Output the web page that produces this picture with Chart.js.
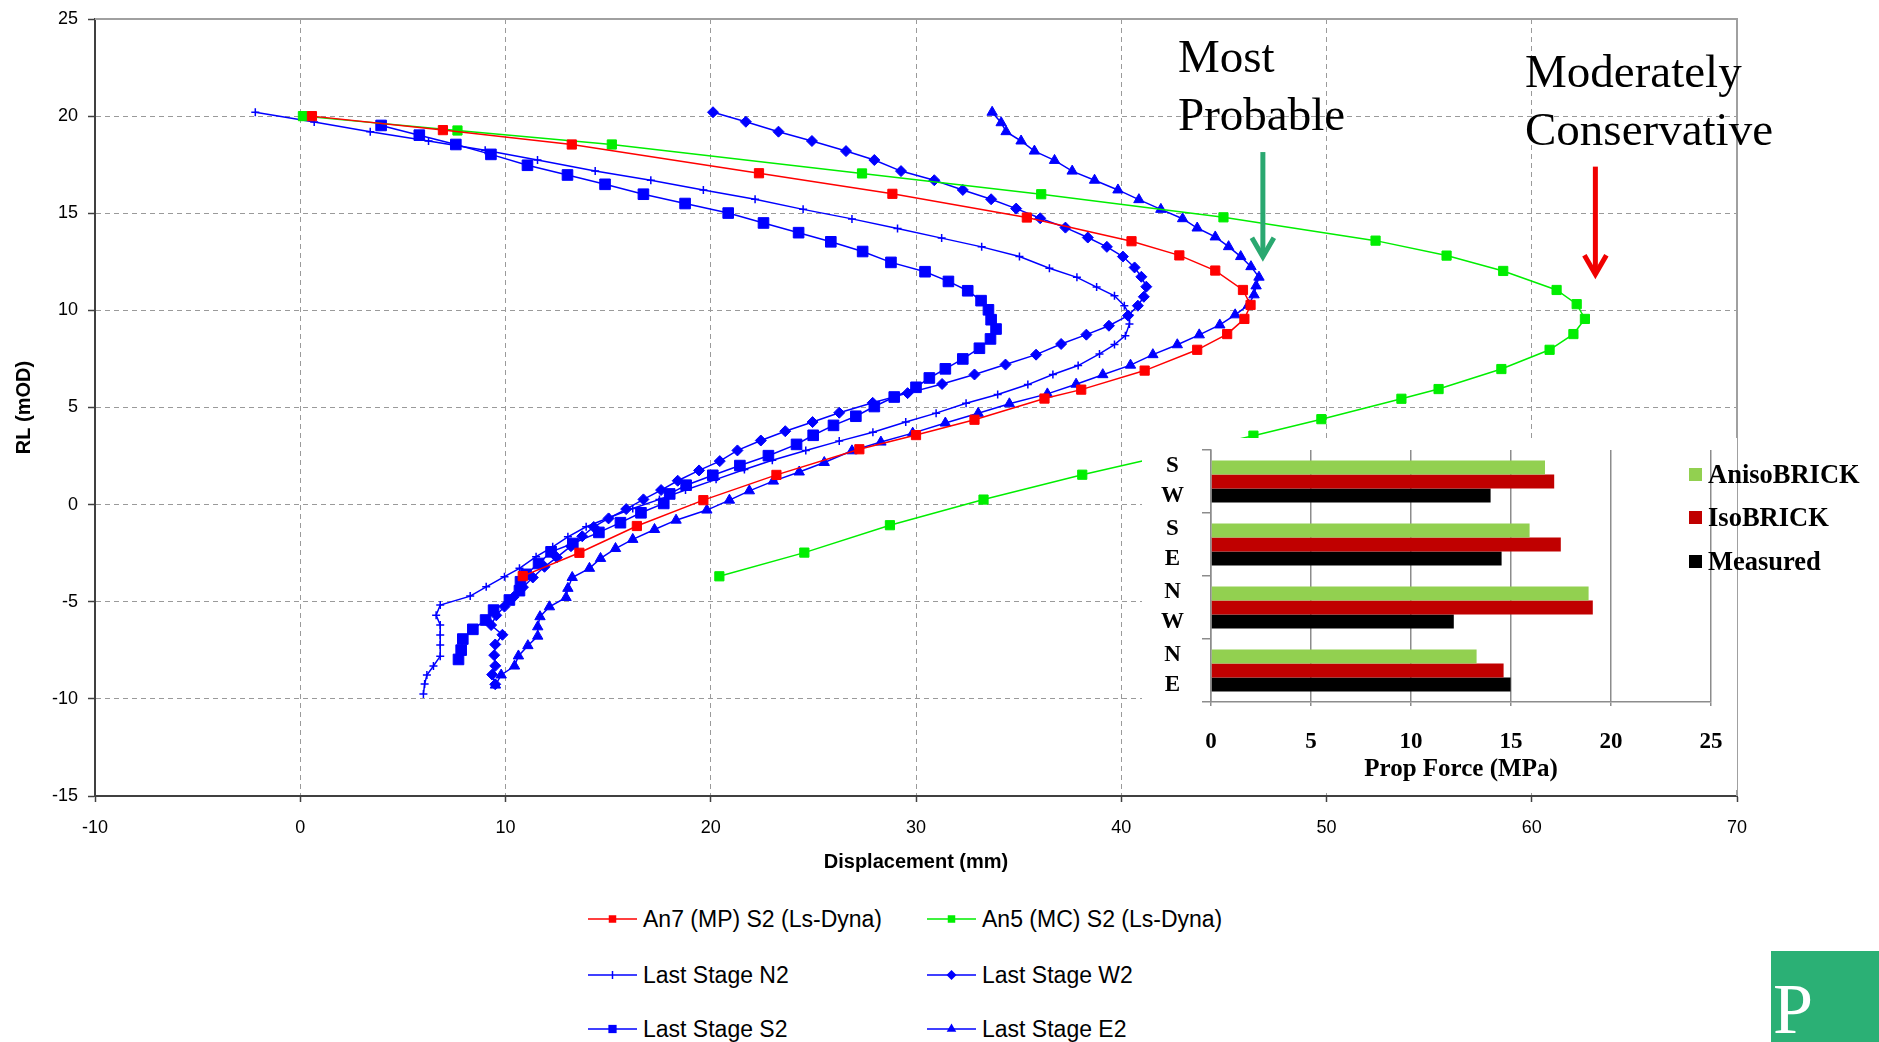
<!DOCTYPE html>
<html>
<head>
<meta charset="utf-8">
<script src="https://cdn.jsdelivr.net/npm/chart.js@4.4.1/dist/chart.umd.min.js"></script>
<style>
  html, body { margin: 0; padding: 0; background: #fff; }
  body { width: 1879px; height: 1042px; position: relative; overflow: hidden; font-family: "Liberation Sans", Arial, sans-serif; }
  #mainChart { position: absolute; left: 0; top: 0; }
  #insetBox { position: absolute; left: 1142px; top: 438px; width: 595px; height: 352px; background: #fff; }
  .note { position: absolute; font-family: "Liberation Serif", "Times New Roman", serif; font-size: 47px; line-height: 58px; color: #000; white-space: nowrap; }
  .lg { position: absolute; height: 30px; display: flex; align-items: center; font-size: 23px; color: #000; white-space: nowrap; }
  .lg canvas { margin-right: 6px; }
  .ilg { position: absolute; height: 30px; display: flex; align-items: center; font-family: "Liberation Serif", serif; font-weight: bold; font-size: 26.5px; color: #000; white-space: nowrap; }
  .ilg span.box { width: 13px; height: 13px; margin-right: 6px; display: inline-block; }
  #logo { position: absolute; left: 1771px; top: 951px; width: 108px; height: 91px; background: #2bb075; }
  #logo span { position: absolute; left: 2px; top: 22px; font-family: "Liberation Serif", serif; font-size: 72px; line-height: 1; color: #fff; }
</style>
</head>
<body>
<canvas id="mainChart" width="1879" height="900"></canvas>
<div class="note" style="left:1178px; top:27px;">Most<br>Probable</div>
<div class="note" style="left:1525px; top:42px;">Moderately<br>Conservative</div>
<div id="insetBox"><canvas id="insetChart" width="595" height="352"></canvas></div>
<div id="legendArea"></div>
<div id="logo"><span>P</span></div>
<script>
// wall displacement profiles: displacement (mm) vs level RL (mOD)
const an7Disp  = [0.57, 6.95, 13.23, 22.35, 28.85, 35.4, 40.5, 42.83, 44.58, 45.93, 46.3, 46.0, 45.16, 43.7, 41.14, 38.05, 36.26, 32.85, 30.0, 27.24, 23.2, 19.64, 16.4, 13.6, 10.84];
const an7Level = [20.0, 19.28, 18.54, 17.06, 16.0, 14.78, 13.56, 12.83, 12.05, 11.05, 10.28, 9.56, 8.78, 7.97, 6.9, 5.92, 5.46, 4.37, 3.58, 2.85, 1.53, 0.23, -1.1, -2.48, -3.68];

const an5Disp  = [0.13, 7.66, 15.18, 27.37, 36.1, 44.98, 52.39, 55.85, 58.61, 61.21, 62.19, 62.59, 62.03, 60.87, 58.52, 55.46, 53.65, 49.75, 46.44, 42.3, 38.1, 33.29, 28.73, 24.56, 20.42];
const an5Level = [20.0, 19.26, 18.54, 17.05, 15.98, 14.79, 13.59, 12.82, 12.03, 11.05, 10.32, 9.56, 8.78, 7.97, 6.98, 5.95, 5.45, 4.4, 3.55, 2.55, 1.54, 0.26, -1.06, -2.47, -3.69];

const n2Disp  = [-2.19, 0.68, 3.41, 6.25, 9.01, 11.56, 14.37, 17.08, 19.64, 22.16, 24.5, 26.88, 29.1, 31.25, 33.2, 35.04, 36.5, 37.84, 38.8, 39.67, 40.15, 40.4, 40.4, 40.2, 39.67, 38.94, 37.9, 36.67, 35.45, 33.98, 32.44, 30.98, 29.5, 27.9, 26.26, 24.63, 23.0, 21.64, 20.26, 18.77, 17.5, 16.2, 15.06, 13.93, 13.04, 12.3, 11.49, 10.68, 9.95, 9.06, 8.28, 6.82, 6.62, 6.82, 6.82, 6.82, 6.82, 6.49, 6.17, 6.06, 6.0];
const n2Level = [20.2, 19.7, 19.2, 18.72, 18.24, 17.74, 17.17, 16.7, 16.2, 15.72, 15.2, 14.71, 14.21, 13.72, 13.27, 12.77, 12.17, 11.7, 11.2, 10.75, 10.24, 9.78, 9.3, 8.7, 8.24, 7.76, 7.16, 6.7, 6.18, 5.67, 5.22, 4.71, 4.25, 3.73, 3.27, 2.79, 2.28, 1.81, 1.3, 0.75, 0.27, -0.2, -0.66, -1.14, -1.66, -2.17, -2.68, -3.28, -3.71, -4.23, -4.71, -5.17, -5.69, -6.2, -6.71, -7.23, -7.8, -8.31, -8.77, -9.24, -9.75];

const w2Disp  = [20.11, 21.71, 23.3, 24.93, 26.59, 27.97, 29.27, 30.89, 32.28, 33.66, 34.88, 36.05, 37.28, 38.37, 39.3, 40.08, 40.65, 40.98, 41.22, 41.1, 40.81, 40.33, 39.4, 38.3, 37.07, 35.85, 34.36, 32.85, 31.27, 29.59, 27.89, 26.26, 24.96, 23.63, 22.44, 21.3, 20.44, 19.43, 18.39, 17.58, 16.72, 15.88, 15.02, 14.3, 13.74, 13.19, 12.5, 11.9, 11.33, 10.85, 10.4, 9.95, 9.55, 9.3, 9.85, 9.5, 9.45, 9.5, 9.35, 9.5];
const w2Level = [20.2, 19.71, 19.2, 18.72, 18.2, 17.74, 17.17, 16.7, 16.2, 15.72, 15.24, 14.74, 14.26, 13.75, 13.27, 12.77, 12.21, 11.73, 11.22, 10.7, 10.24, 9.73, 9.21, 8.75, 8.27, 7.72, 7.21, 6.7, 6.21, 5.74, 5.24, 4.73, 4.25, 3.78, 3.3, 2.79, 2.24, 1.76, 1.23, 0.75, 0.27, -0.23, -0.71, -1.15, -1.63, -2.14, -2.72, -3.2, -3.75, -4.25, -4.75, -5.25, -5.7, -6.2, -6.7, -7.2, -7.75, -8.3, -8.75, -9.25];

const s2Disp  = [3.94, 5.8, 7.58, 9.29, 11.07, 13.02, 14.85, 16.72, 18.75, 20.85, 22.57, 24.28, 25.85, 27.4, 28.78, 30.44, 31.58, 32.52, 33.17, 33.53, 33.66, 33.9, 33.63, 33.09, 32.28, 31.43, 30.65, 30.0, 28.94, 27.97, 27.07, 25.98, 24.99, 24.18, 22.81, 21.42, 20.1, 18.8, 18.0, 17.71, 16.6, 15.6, 14.55, 13.28, 12.22, 11.61, 11.0, 10.73, 10.68, 10.19, 9.42, 9.03, 8.41, 7.92, 7.84, 7.71];
const s2Level = [19.52, 19.02, 18.54, 18.03, 17.47, 16.97, 16.49, 15.98, 15.5, 15.01, 14.5, 14.0, 13.53, 13.03, 12.47, 11.99, 11.49, 11.01, 10.5, 10.03, 9.52, 9.04, 8.53, 8.05, 7.5, 6.99, 6.52, 6.04, 5.54, 5.05, 4.55, 4.08, 3.57, 3.1, 2.52, 2.01, 1.51, 1.0, 0.55, 0.06, -0.42, -0.93, -1.43, -2.0, -2.43, -3.03, -3.59, -3.97, -4.43, -4.91, -5.43, -5.94, -6.42, -6.92, -7.49, -7.97];

const e2Disp  = [33.71, 34.15, 34.39, 35.12, 35.77, 36.75, 37.61, 38.7, 39.84, 40.86, 41.93, 42.99, 43.7, 44.58, 45.23, 45.82, 46.32, 46.71, 46.57, 46.47, 46.2, 45.55, 44.8, 43.8, 42.73, 41.54, 40.45, 39.1, 37.8, 36.4, 34.55, 33.03, 31.43, 29.84, 28.29, 26.88, 25.53, 24.31, 23.05, 21.88, 20.91, 19.81, 18.31, 17.26, 16.2, 15.36, 14.63, 14.09, 13.25, 13.04, 12.95, 12.14, 11.68, 11.57, 11.57, 11.09, 10.63, 10.44, 9.79, 9.51];
const e2Level = [20.2, 19.66, 19.2, 18.72, 18.2, 17.72, 17.17, 16.7, 16.2, 15.7, 15.2, 14.72, 14.24, 13.78, 13.28, 12.77, 12.25, 11.71, 11.26, 10.8, 10.28, 9.77, 9.25, 8.74, 8.23, 7.72, 7.18, 6.69, 6.2, 5.7, 5.19, 4.7, 4.2, 3.68, 3.22, 2.77, 2.17, 1.68, 1.21, 0.71, 0.23, -0.28, -0.8, -1.28, -1.79, -2.26, -2.77, -3.28, -3.75, -4.31, -4.78, -5.26, -5.77, -6.29, -6.77, -7.26, -7.79, -8.31, -8.77, -9.29];

// inset: prop forces (MPa) per wall side
const sideLabels = [["S", "W"], ["S", "E"], ["N", "W"], ["N", "E"]];
const anisoForce = [16.7, 15.93, 18.88, 13.28];
const isoForce = [17.16, 17.49, 19.09, 14.63];
const measuredForce = [13.98, 14.53, 12.14, 14.98];

const sansFont = "'Liberation Sans', Arial, sans-serif";
const serifFont = "'Liberation Serif', 'Times New Roman', serif";

const seriesList = [
    { label: "An7 (MP) S2 (Ls-Dyna)", xs: an7Disp, ys: an7Level, color: "#ff0000", style: "rect", r: 6.5, lr: 5 },
    { label: "An5 (MC) S2 (Ls-Dyna)", xs: an5Disp, ys: an5Level, color: "#00ee00", style: "rect", r: 6.5, lr: 5 },
    { label: "Last Stage N2", xs: n2Disp, ys: n2Level, color: "#0000ff", style: "cross", r: 4, lr: 4 },
    { label: "Last Stage W2", xs: w2Disp, ys: w2Level, color: "#0000ff", style: "rectRot", r: 5.5, lr: 5 },
    { label: "Last Stage S2", xs: s2Disp, ys: s2Level, color: "#0000ff", style: "rect", r: 7.5, lr: 5.5 },
    { label: "Last Stage E2", xs: e2Disp, ys: e2Level, color: "#0000ff", style: "triangle", r: 6, lr: 5.5 }
];

// arrows in data coordinates: [x, yFrom, yTip, colour]
const arrowMarks = [
    [46.9, 18.15, 12.6, "#2aa870"],
    [63.1, 17.4, 11.7, "#f00000"]
];

function drawArrow(ctx, x, y1, y2, color) {
    ctx.save();
    ctx.strokeStyle = color;
    ctx.lineWidth = 5;
    ctx.beginPath();
    ctx.moveTo(x, y1);
    ctx.lineTo(x, y2 - 6);
    ctx.stroke();
    ctx.lineJoin = "miter";
    ctx.beginPath();
    ctx.moveTo(x - 11, y2 - 22);
    ctx.lineTo(x, y2 - 3);
    ctx.lineTo(x + 11, y2 - 22);
    ctx.stroke();
    ctx.restore();
}

// keep the plot boxes where they sit in the picture
function noEdgePadding(s) {
    s.paddingTop = 0;
    s.paddingBottom = 0;
    s.paddingLeft = 0;
    s.paddingRight = 0;
}

const framePlugin = {
    id: "frame",
    afterDraw(chart) {
        const ctx = chart.ctx;
        const a = chart.chartArea;
        ctx.save();
        ctx.strokeStyle = "#a0a0a0";
        ctx.lineWidth = 2;
        ctx.beginPath();
        ctx.moveTo(a.left, a.top);
        ctx.lineTo(a.right, a.top);
        ctx.lineTo(a.right, a.bottom);
        ctx.stroke();
        ctx.restore();
        const xs = chart.scales.x, ys = chart.scales.y;
        arrowMarks.forEach(function(m) {
            drawArrow(ctx, xs.getPixelForValue(m[0]), ys.getPixelForValue(m[1]), ys.getPixelForValue(m[2]), m[3]);
        });
    }
};

new Chart(document.getElementById("mainChart"), {
    type: "scatter",
    data: {
        datasets: seriesList.map(function(s) {
            return {
                label: s.label,
                data: s.xs.map(function(x, i) { return { x: x, y: s.ys[i] }; }),
                showLine: true,
                borderColor: s.color,
                backgroundColor: s.color,
                borderWidth: 1.5,
                pointStyle: s.style,
                pointRadius: s.r,
                pointBorderWidth: s.style === "cross" ? 1.5 : 1,
                pointBorderColor: s.color,
                pointBackgroundColor: s.color,
                tension: 0
            };
        })
    },
    options: {
        responsive: false,
        animation: false,
        layout: { padding: { top: 19, right: 142, left: 0, bottom: 0 } },
        plugins: { legend: { display: false }, tooltip: { enabled: false } },
        scales: {
            x: {
                type: "linear", min: -10, max: 70,
                ticks: { stepSize: 10, color: "#000", padding: 15, font: { family: sansFont, size: 18 } },
                grid: { color: "#9a9a9a", lineWidth: 1, tickLength: 6, tickColor: "#404040", tickWidth: 1.5 },
                border: { color: "#404040", width: 2, dash: [5, 4] },
                title: { display: true, text: "Displacement (mm)", color: "#000", font: { family: sansFont, size: 20, weight: "bold" }, padding: { top: 0, bottom: 26 } },
                afterFit: function(s) { s.height = 104; noEdgePadding(s); }
            },
            y: {
                type: "linear", min: -15, max: 25,
                ticks: { stepSize: 5, color: "#000", padding: 10, font: { family: sansFont, size: 18 } },
                grid: { color: "#9a9a9a", lineWidth: 1, tickLength: 7, tickColor: "#404040", tickWidth: 1.5 },
                border: { color: "#404040", width: 2, dash: [5, 4] },
                title: { display: true, text: "RL (mOD)", color: "#000", font: { family: sansFont, size: 20, weight: "bold" }, padding: { top: 12, bottom: 0 } },
                afterFit: function(s) { s.width = 95; noEdgePadding(s); }
            }
        }
    },
    plugins: [framePlugin]
});

new Chart(document.getElementById("insetChart"), {
    type: "bar",
    data: {
        labels: sideLabels,
        datasets: [
            { label: "AnisoBRICK", data: anisoForce, backgroundColor: "#92d050" },
            { label: "IsoBRICK", data: isoForce, backgroundColor: "#c00000" },
            { label: "Measured", data: measuredForce, backgroundColor: "#000000" }
        ]
    },
    options: {
        indexAxis: "y",
        responsive: false,
        animation: false,
        datasets: { bar: { categoryPercentage: 0.67, barPercentage: 1.0 } },
        layout: { padding: { top: 12, right: 26, left: 0, bottom: 0 } },
        plugins: { legend: { display: false }, tooltip: { enabled: false } },
        scales: {
            x: {
                min: 0, max: 25,
                ticks: { stepSize: 5, color: "#000", padding: 22, font: { family: serifFont, size: 23, weight: "bold" } },
                grid: { color: "#8c8c8c", lineWidth: 1.5, tickLength: 4, tickColor: "#8c8c8c" },
                border: { color: "#8c8c8c", width: 1.5 },
                title: { display: true, text: "Prop Force (MPa)", color: "#000", font: { family: serifFont, size: 25, weight: "bold" }, padding: { top: 0, bottom: 5 } },
                afterFit: function(s) { s.height = 88; noEdgePadding(s); }
            },
            y: {
                ticks: { autoSkip: false, color: "#000", crossAlign: "center", padding: 18, font: { family: serifFont, size: 23, weight: "bold", lineHeight: 1.3 } },
                grid: { drawOnChartArea: false, tickLength: 9, color: "#8c8c8c", lineWidth: 1.5 },
                border: { color: "#8c8c8c", width: 1.5 },
                afterFit: function(s) { s.width = 69; noEdgePadding(s); }
            }
        }
    }
});

// bottom legend for the profiles
const legendCols = [588, 927];
const legendRows = [919, 975, 1029];
const legendArea = document.getElementById("legendArea");

function drawMarker(ctx, style, x, y, r, color) {
    ctx.fillStyle = color;
    ctx.strokeStyle = color;
    ctx.lineWidth = 1.5;
    ctx.beginPath();
    if (style === "rect") {
        ctx.rect(x - r * 0.75, y - r * 0.75, r * 1.5, r * 1.5);
        ctx.fill();
    } else if (style === "rectRot") {
        ctx.moveTo(x - r, y); ctx.lineTo(x, y - r); ctx.lineTo(x + r, y); ctx.lineTo(x, y + r);
        ctx.closePath();
        ctx.fill();
    } else if (style === "triangle") {
        ctx.moveTo(x, y - r); ctx.lineTo(x + r * 0.87, y + r * 0.5); ctx.lineTo(x - r * 0.87, y + r * 0.5);
        ctx.closePath();
        ctx.fill();
    } else {
        ctx.moveTo(x, y - r); ctx.lineTo(x, y + r);
        ctx.stroke();
    }
}

seriesList.forEach(function(s, i) {
    const item = document.createElement("div");
    item.className = "lg";
    item.style.left = legendCols[i % 2] + "px";
    item.style.top = (legendRows[Math.floor(i / 2)] - 15) + "px";
    const icon = document.createElement("canvas");
    icon.width = 49;
    icon.height = 20;
    const ctx = icon.getContext("2d");
    ctx.strokeStyle = s.color;
    ctx.lineWidth = 1.5;
    ctx.beginPath();
    ctx.moveTo(0, 10);
    ctx.lineTo(49, 10);
    ctx.stroke();
    drawMarker(ctx, s.style, 24.5, 10, s.lr, s.color);
    item.appendChild(icon);
    const txt = document.createElement("span");
    txt.textContent = s.label;
    item.appendChild(txt);
    legendArea.appendChild(item);
});

// inset legend
const insetLegend = [["AnisoBRICK", "#92d050", 474], ["IsoBRICK", "#c00000", 517], ["Measured", "#000000", 561]];
insetLegend.forEach(function(l) {
    const item = document.createElement("div");
    item.className = "ilg";
    item.style.left = "1689px";
    item.style.top = (l[2] - 15) + "px";
    const box = document.createElement("span");
    box.className = "box";
    box.style.background = l[1];
    item.appendChild(box);
    const txt = document.createElement("span");
    txt.textContent = l[0];
    item.appendChild(txt);
    legendArea.appendChild(item);
});
</script>
</body>
</html>
